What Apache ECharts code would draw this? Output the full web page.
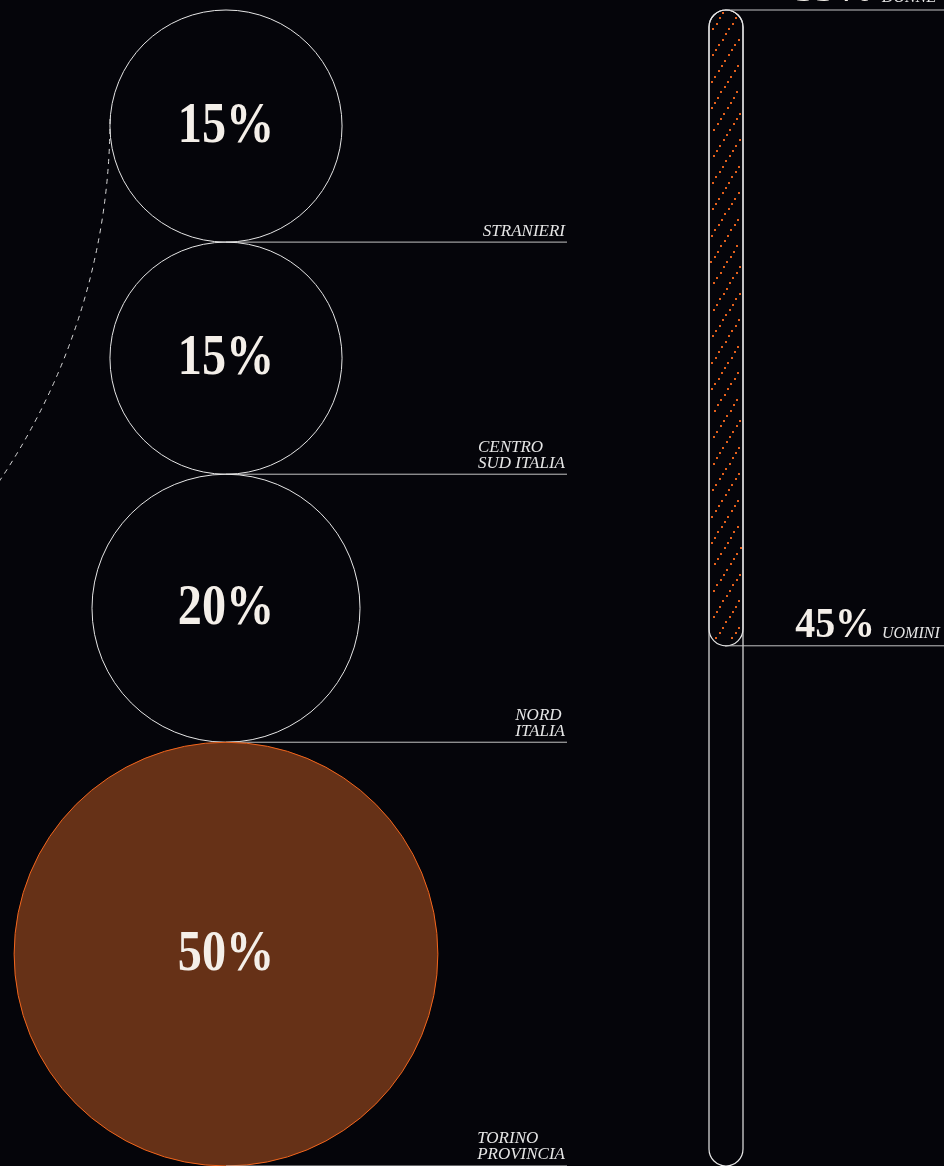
<!DOCTYPE html>
<html>
<head>
<meta charset="utf-8">
<title>Provenienza e genere</title>
<script src="https://cdn.jsdelivr.net/npm/echarts@6/dist/echarts.min.js"></script>
<style>
  html, body { margin: 0; padding: 0; background: #05050a; }
  #chart { width: 944px; height: 1166px; }
</style>
</head>
<body>
<div id="chart"></div>
<script>
// Provenienza (percentuali) e ripartizione per genere
const provenienze = ['STRANIERI', 'CENTRO\nSUD ITALIA', 'NORD\nITALIA', 'TORINO\nPROVINCIA'];
const quoteProvenienza = [15, 15, 20, 50];
const generi = ['DONNE', 'UOMINI'];
const quoteGenere = [55, 45];

// Stile
const SFONDO = '#05050a';
const BIANCO = '#e6e6e6';
const TESTO = '#f4efe9';
const ARANCIO = '#f2651c';
const ARANCIO_FONDO = '#663117';
const PUNTINI = '#e4601c';
const FONT_NUM = '"Liberation Serif", "DejaVu Serif", serif';

// Layout (pixel)
const PILA_X = 226;        // asse verticale della pila di cerchi
const PILA_FINE = 567;     // fine delle linee di richiamo
const BARRA_FINE = 944;

const misura = (() => {
  const ctx = document.createElement('canvas').getContext('2d');
  return (testo, font) => {
    ctx.font = font;
    return Math.max(...testo.split('\n').map(t => ctx.measureText(t).width));
  };
})();

// Cerchi con area proporzionale al valore, impilati e tangenti
let cumulato = 0;
const righeCerchi = quoteProvenienza.map((v, i) => {
  const r = Math.sqrt(v);
  const centro = cumulato + r;
  cumulato += 2 * r;
  return [centro, r, v, i];
});
const altezzaPila = cumulato;
const evidenza = quoteProvenienza.indexOf(Math.max(...quoteProvenienza));

// Segmenti della barra per genere
let inizio = 0;
const righeGenere = quoteGenere.map((v, i) => {
  const riga = [inizio, inizio + v, v, i];
  inizio += v;
  return riga;
});

const FONT_ETICHETTA = 'italic 17px "Liberation Serif"';

function disegnaCerchio(params, api) {
  const i = api.value(3);
  const [x, y] = api.coord([PILA_X, api.value(0)]);
  const r = api.size([0, api.value(1)])[1];
  const xFine = api.coord([PILA_FINE, 0])[0];
  const yBase = y + r;
  const acceso = i === evidenza;
  const nome = provenienze[i];
  const larghezza = misura(nome, FONT_ETICHETTA);
  return {
    type: 'group',
    children: [
      {
        type: 'circle',
        shape: { cx: x, cy: y, r: r },
        style: { fill: acceso ? ARANCIO_FONDO : 'none', stroke: acceso ? ARANCIO : BIANCO, lineWidth: 1 }
      },
      {
        type: 'line',
        shape: { x1: x, y1: yBase, x2: xFine, y2: yBase },
        style: { stroke: '#c4c4c4', lineWidth: 1 }
      },
      {
        type: 'text',
        x: x, y: y + 1,
        scaleX: 0.86,
        style: {
          text: api.value(2) + '%',
          x: 0, y: 0,
          align: 'center', verticalAlign: 'middle',
          font: 'bold 56px ' + FONT_NUM,
          fill: TESTO
        }
      },
      {
        type: 'text',
        style: {
          text: nome,
          x: xFine - 2 - larghezza, y: yBase - 3,
          align: 'left', verticalAlign: 'bottom',
          font: FONT_ETICHETTA, lineHeight: 16,
          fill: BIANCO
        }
      }
    ]
  };
}

function disegnaContorno(params, api) {
  const [x, y0] = api.coord([0, api.value(0)]);
  const y1 = api.coord([0, api.value(1)])[1];
  const w = api.size([1, 0])[0];
  return {
    type: 'rect',
    shape: { x: x - w / 2, y: y0, width: w, height: y1 - y0, r: w / 2 },
    style: { fill: 'none', stroke: BIANCO, lineWidth: 1.2 }
  };
}

function disegnaGenere(params, api) {
  const i = api.value(3);
  const [x, y0] = api.coord([0, api.value(0)]);
  const y1 = api.coord([0, api.value(1)])[1];
  const w = api.size([1, 0])[0];
  const raggio = w / 2;
  const figli = [];

  if (i === 0) {
    // tratteggio a puntini obliqui dentro la capsula
    const passoY = 5.3, pendenza = 1.6, passoX = 16, margine = 2.4;
    const dentro = (px, py) => {
      const qy = Math.min(Math.max(py, y0 + raggio), y1 - raggio);
      return Math.hypot(px - x, py - qy) <= raggio - margine;
    };
    for (let py = y0 + 3; py < y1; py += passoY) {
      const sposta = ((py - y0) / pendenza) % passoX;
      for (let px = x - raggio - passoX - sposta; px < x + raggio + passoX; px += passoX) {
        if (dentro(px, py)) {
          figli.push({
            type: 'rect',
            shape: { x: Math.round(px) - 1, y: Math.round(py) - 1, width: 2, height: 2 },
            style: { fill: PUNTINI }
          });
        }
      }
    }
    figli.push({
      type: 'rect',
      shape: { x: x - raggio, y: y0, width: w, height: y1 - y0, r: raggio },
      style: { fill: 'none', stroke: BIANCO, lineWidth: 1.2 }
    });
  }

  figli.push(
    {
      type: 'line',
      shape: { x1: x - 1, y1: y0, x2: BARRA_FINE, y2: y0 },
      style: { stroke: '#c4c4c4', lineWidth: 1 }
    },
    {
      type: 'text',
      x: 875, y: y0 - 20,
      scaleX: 0.95,
      style: {
        text: api.value(2) + '%',
        x: 0, y: 0,
        align: 'right', verticalAlign: 'middle',
        font: 'bold 42px ' + FONT_NUM,
        fill: TESTO
      }
    },
    {
      type: 'text',
      style: {
        text: generi[i],
        x: 882, y: y0 - 12,
        align: 'left', verticalAlign: 'middle',
        font: 'italic 16px "Liberation Serif"',
        fill: BIANCO
      }
    }
  );
  return { type: 'group', children: figli };
}

const chart = echarts.init(document.getElementById('chart'));
chart.setOption({
  backgroundColor: SFONDO,
  animation: false,
  grid: [
    { left: 0, top: 10, width: PILA_FINE, height: 1157 },
    { left: 709, top: 10, width: 34, height: 1156 }
  ],
  xAxis: [
    { gridIndex: 0, type: 'value', min: 0, max: PILA_FINE, show: false },
    { gridIndex: 1, type: 'category', data: ['genere'], show: false }
  ],
  yAxis: [
    { gridIndex: 0, type: 'value', min: 0, max: altezzaPila, inverse: true, show: false },
    { gridIndex: 1, type: 'value', min: 0, max: 100, inverse: true, show: false }
  ],
  graphic: [
    {
      type: 'arc',
      silent: true,
      shape: { cx: -538, cy: 119, r: 648, startAngle: 0, endAngle: 0.62, clockwise: true },
      style: { fill: 'none', stroke: '#d8d8d8', lineWidth: 1, lineDash: [5, 5] }
    }
  ],
  series: [
    {
      type: 'custom',
      xAxisIndex: 0, yAxisIndex: 0,
      clip: false,
      silent: true,
      data: righeCerchi,
      encode: { y: 0 },
      renderItem: disegnaCerchio
    },
    {
      type: 'custom',
      xAxisIndex: 1, yAxisIndex: 1,
      clip: false,
      silent: true,
      data: [[0, 100]],
      encode: { y: [0, 1] },
      renderItem: disegnaContorno
    },
    {
      type: 'custom',
      xAxisIndex: 1, yAxisIndex: 1,
      clip: false,
      silent: true,
      data: righeGenere,
      encode: { y: [0, 1] },
      renderItem: disegnaGenere
    }
  ]
});
</script>
</body>
</html>
